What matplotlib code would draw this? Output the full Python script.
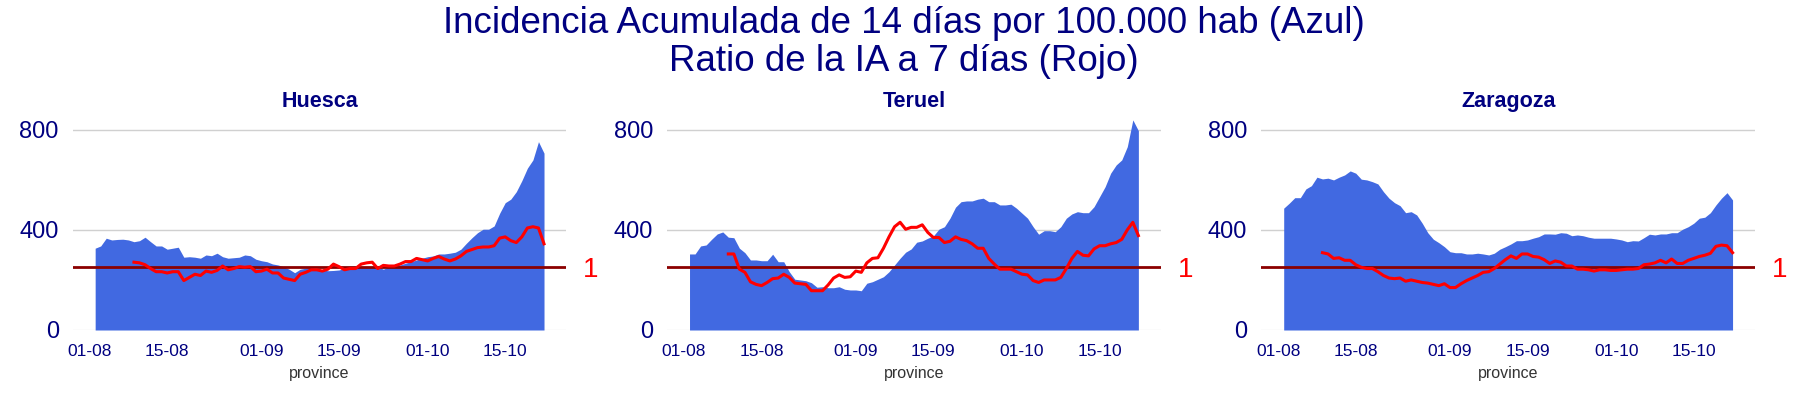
import numpy as np
import matplotlib
matplotlib.use("Agg")
import matplotlib.pyplot as plt
import matplotlib.dates as mdates

plt.rcParams["font.family"] = ["Liberation Sans", "DejaVu Sans"]

PROVINCES = ["Huesca", "Teruel", "Zaragoza"]
END = np.datetime64("2020-10-22")

# IA 14 días por 100.000 hab (área azul), un valor por día hasta END
IA_HUESCA = [327, 336, 367, 360, 362, 363, 360, 353, 357, 371,
             353, 336, 336, 323, 327, 331, 291, 293, 291, 287,
             300, 297, 307, 293, 287, 289, 291, 300, 297, 283,
             277, 273, 264, 260, 253, 243, 229, 243, 247, 251,
             243, 240, 237, 238, 240, 247, 247, 251, 253, 253,
             253, 253, 243, 253, 256, 260, 267, 273, 280, 287,
             293, 296, 304, 304, 307, 311, 323, 347, 369, 389,
             403, 403, 416, 467, 509, 523, 553, 597, 647, 680,
             753, 707]
IA_TERUEL = [304, 304, 336, 340, 363, 384, 392, 371, 369, 327,
             309, 280, 280, 277, 277, 303, 273, 273, 233, 203,
             200, 197, 189, 171, 173, 169, 169, 173, 163, 160,
             160, 157, 187, 193, 203, 213, 233, 260, 287, 311,
             324, 351, 356, 367, 376, 403, 413, 447, 491, 513,
             516, 516, 523, 527, 513, 513, 500, 500, 503, 487,
             467, 447, 413, 383, 397, 397, 393, 413, 447, 464,
             473, 469, 469, 493, 533, 573, 627, 660, 680, 733,
             840, 797]
IA_ZARAGOZA = [487, 507, 529, 529, 564, 577, 611, 604, 607, 600,
               611, 620, 636, 627, 603, 600, 593, 584, 553, 527,
               509, 497, 469, 473, 460, 427, 389, 363, 349, 333,
               313, 309, 309, 304, 304, 307, 304, 300, 307, 323,
               333, 344, 357, 357, 360, 367, 373, 384, 384, 383,
               389, 387, 377, 380, 377, 371, 367, 367, 367, 367,
               364, 360, 353, 357, 356, 369, 383, 380, 384, 384,
               389, 389, 403, 413, 427, 447, 451, 469, 500, 527,
               549, 520]

# Ratio de la IA a 7 días (línea roja), un valor por día hasta END
RATIO_HUESCA = [1.07, 1.06, 1.03, 0.97, 0.92, 0.92, 0.90, 0.92, 0.92, 0.78,
                0.83, 0.88, 0.86, 0.93, 0.91, 0.94, 1.01, 0.95, 0.97, 1.00,
                0.99, 1.00, 0.92, 0.93, 0.96, 0.90, 0.90, 0.82, 0.80, 0.78,
                0.88, 0.91, 0.95, 0.95, 0.93, 0.96, 1.04, 1.00, 0.95, 0.97,
                0.97, 1.04, 1.06, 1.07, 0.97, 1.02, 1.01, 1.01, 1.04, 1.08,
                1.08, 1.13, 1.11, 1.09, 1.13, 1.16, 1.12, 1.09, 1.12, 1.17,
                1.24, 1.27, 1.30, 1.31, 1.31, 1.33, 1.45, 1.47, 1.41, 1.38,
                1.47, 1.61, 1.63, 1.61, 1.36]
RATIO_TERUEL = [1.20, 1.20, 0.96, 0.91, 0.76, 0.72, 0.70, 0.75, 0.81, 0.82,
                0.88, 0.83, 0.74, 0.73, 0.72, 0.62, 0.62, 0.62, 0.71, 0.82,
                0.87, 0.83, 0.84, 0.93, 0.91, 1.06, 1.13, 1.14, 1.29, 1.47,
                1.63, 1.70, 1.59, 1.62, 1.62, 1.66, 1.54, 1.46, 1.46, 1.38,
                1.40, 1.47, 1.43, 1.41, 1.36, 1.29, 1.29, 1.13, 1.04, 0.96,
                0.96, 0.96, 0.92, 0.88, 0.87, 0.78, 0.75, 0.79, 0.79, 0.79,
                0.83, 0.97, 1.13, 1.24, 1.18, 1.17, 1.28, 1.33, 1.33, 1.36,
                1.38, 1.43, 1.58, 1.70, 1.49]
RATIO_ZARAGOZA = [1.22, 1.20, 1.13, 1.14, 1.10, 1.10, 1.03, 0.99, 0.97, 0.97,
                  0.92, 0.86, 0.82, 0.81, 0.82, 0.77, 0.79, 0.77, 0.75, 0.74,
                  0.72, 0.70, 0.73, 0.67, 0.67, 0.73, 0.78, 0.82, 0.86, 0.91,
                  0.92, 0.97, 1.04, 1.11, 1.17, 1.13, 1.20, 1.20, 1.16, 1.15,
                  1.11, 1.05, 1.09, 1.07, 1.01, 1.01, 0.96, 0.96, 0.95, 0.93,
                  0.95, 0.95, 0.94, 0.94, 0.95, 0.96, 0.96, 0.97, 1.03, 1.04,
                  1.06, 1.10, 1.06, 1.12, 1.05, 1.05, 1.10, 1.13, 1.16, 1.18,
                  1.21, 1.32, 1.34, 1.33, 1.22]

IA = [IA_HUESCA, IA_TERUEL, IA_ZARAGOZA]
RATIO = [RATIO_HUESCA, RATIO_TERUEL, RATIO_ZARAGOZA]
Y_TICKS = [0, 400, 800]

NAVY = "#000080"


def days_to_end(n):
    return (END - np.arange(n)[::-1]).astype("datetime64[D]").astype("O")


fig = plt.figure(figsize=(18, 4), dpi=100)
fig.patch.set_facecolor("white")
lefts = [0.0404, 0.3706, 0.7007]

for left, name, ia, ratio in zip(lefts, PROVINCES, IA, RATIO):
    ax = fig.add_axes([left, 0.175, 0.2743, 0.544])
    x_ia = days_to_end(len(ia))
    ax.fill_between(x_ia, 0, ia, color="#4169E1", lw=0, zorder=2)
    ax.set_ylim(0, 870)
    ax.set_yticks(Y_TICKS)
    ax.set_axisbelow(True)
    ax.grid(axis="y", color="#d0d0d0", lw=1)
    ax.get_ygridlines()[0].set_color("#eeeeee")
    ax.xaxis.set_major_locator(mdates.DayLocator(bymonthday=[1, 15]))
    ax.xaxis.set_major_formatter(mdates.DateFormatter("%d-%m"))
    ax.tick_params(axis="y", length=0, labelsize=17, labelcolor=NAVY, pad=10)
    ax.tick_params(axis="x", length=0, labelsize=12.5, labelcolor=NAVY, pad=10)
    for s in ax.spines.values():
        s.set_visible(False)
    ax.set_xlabel("province", fontsize=11.5, color="#333333", labelpad=5)
    ax.set_title(name, fontsize=15.5, fontweight="bold", color=NAVY, pad=1)

    ax2 = ax.twinx()
    ax2.axhline(1, color="#8B0000", lw=2, zorder=1)
    ax2.plot(days_to_end(len(ratio)), ratio, color="red", lw=2.2, zorder=3)
    ax2.set_ylim(0, 3.434)
    ax2.set_yticks([1])
    ax2.tick_params(axis="y", length=0, labelsize=20, labelcolor="red", pad=12)
    for s in ax2.spines.values():
        s.set_visible(False)

fig.text(0.502, 1 - 33 / 400, "Incidencia Acumulada de 14 días por 100.000 hab (Azul)",
         fontsize=26.5, color=NAVY, ha="center", va="baseline")
fig.text(0.502, 1 - 70.7 / 400, "Ratio de la IA a 7 días (Rojo)",
         fontsize=26.5, color=NAVY, ha="center", va="baseline")

fig.savefig("out.png", dpi=100, facecolor="white")
